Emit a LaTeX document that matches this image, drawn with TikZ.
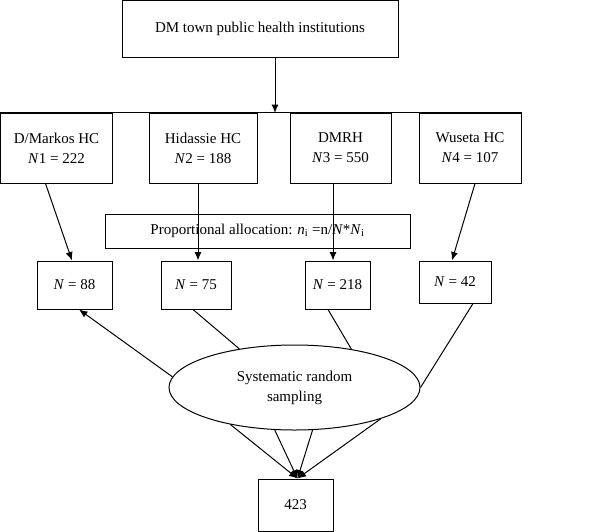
\documentclass[tikz,border=0pt]{standalone}
\usepackage{fontspec}
\setmainfont{Liberation Serif}
\usetikzlibrary{shapes.geometric,arrows.meta}

\begin{document}
\begin{tikzpicture}[x=1pt,y=-1pt,
		box/.style={draw,line width=1pt,inner sep=0pt,align=center,font=\fontsize{15}{20}\selectfont},
		arr/.style={-{Latex[length=8.5pt,width=7pt]},line width=1pt},
		lin/.style={line width=1pt}]
		\useasboundingbox (0,0) rectangle (592,531);
		\node [box,minimum width=276,minimum height=57] (top) at (260,28.5) {DM town public health institutions};
		\node [box,minimum width=112,minimum height=70] (b1) at (56.5,148) {D/Markos HC\\\textit{N}1 = 222};
		\node [box,minimum width=108,minimum height=70] (b2) at (203,148) {Hidassie HC\\\textit{N}2 = 188};
		\node [box,minimum width=101,minimum height=70] (b3) at (340.5,148) {DMRH\\\textit{N}3 = 550};
		\node [box,minimum width=102,minimum height=70] (b4) at (470,148) {Wuseta HC\\\textit{N}4 = 107};
		\node [box,minimum width=305,minimum height=34] (alloc) at (257.5,231) {Proportional allocation: \textit{n}\textsubscript{i} =n/\textit{N}*\textit{N}\textsubscript{i}};
		\node [box,minimum width=75,minimum height=48] (c1) at (74.5,285) {\textit{N} = 88};
		\node [box,minimum width=70,minimum height=48] (c2) at (196,285) {\textit{N} = 75};
		\node [box,minimum width=65,minimum height=48] (c3) at (337.5,285) {\textit{N} = 218};
		\node [box,minimum width=72,minimum height=42] (c4) at (455,282) {\textit{N} = 42};
		\node [box,ellipse,minimum width=251,minimum height=85] (ell) at (294.5,387.5) {Systematic random\\sampling};
		\node [box,minimum width=75,minimum height=52] (total) at (295.5,505) {423};
		\coordinate (hub) at (275,113);
		
		\draw [arr] (top.south -| hub) -- (hub);
		\draw [lin] (b1.north west) -- (b4.north east);
		\draw [arr] ([xshift=-11pt]b1.south) -- ([xshift=-2.5pt]c1.north);
		\draw [arr] ([xshift=-5pt]b2.south) -- ([xshift=-5pt]b2.south |- c2.north);
		\draw [arr] ([xshift=-7.5pt]b3.south) -- ([xshift=-7.5pt]b3.south |- c3.north);
		\draw [arr] ([xshift=5pt]b4.south) -- ([xshift=-3pt]c4.north);
		\draw [arr] (ell.175) -- ([xshift=4.5pt]c1.south);
		\draw [lin] ([xshift=-3pt]c2.south) -- (ell.145);
		\draw [lin] ([xshift=-9.5pt]c3.south) -- (ell.34);
		\draw [lin] ([xshift=18pt]c4.south) -- (ell.east);
		\foreach \a in {210,245,293,340}
		{
			\draw [arr] (ell.\a) -- ([xshift=2pt]total.north);
		}
		
	\end{tikzpicture}
\end{document}
